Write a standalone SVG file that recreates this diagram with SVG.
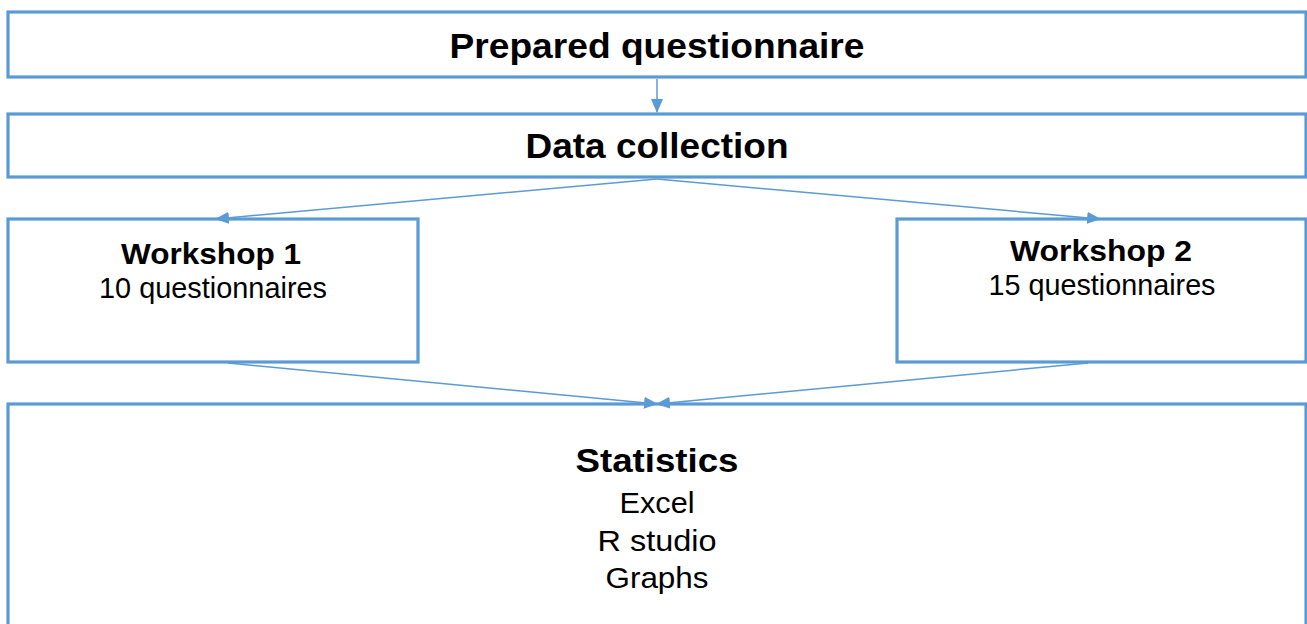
<svg xmlns="http://www.w3.org/2000/svg" width="1307" height="624" viewBox="0 0 1307 624">
<style>
.box{fill:#fff;stroke:#5B9BD5;stroke-width:3.2}
.con{fill:none;stroke:#5B9BD5;stroke-width:1.5}
.b{font-family:"Liberation Sans",Arial,sans-serif;font-weight:bold;fill:#000;text-anchor:middle}
.r{font-family:"Liberation Sans",Arial,sans-serif;fill:#000;text-anchor:middle}
</style>
<defs>
<marker id="ah" markerUnits="userSpaceOnUse" markerWidth="14" markerHeight="12" viewBox="0 0 14 12" refX="13" refY="6" orient="auto">
<path d="M0,0 L14,6 L0,12 Z" fill="#5B9BD5"/>
</marker>
</defs>
<rect width="1307" height="624" fill="#fff"/>
<g id="n1"><rect class="box" x="8" y="12" width="1298" height="65"/>
<text class="b" x="657" y="58" font-size="35" textLength="415" lengthAdjust="spacingAndGlyphs">Prepared questionnaire</text></g>
<g id="n2"><rect class="box" x="8" y="114" width="1298" height="63"/>
<text class="b" x="657" y="158" font-size="35" textLength="263" lengthAdjust="spacingAndGlyphs">Data collection</text></g>
<g id="n3"><rect class="box" x="8" y="219" width="410" height="143"/>
<text class="b" x="211" y="264" font-size="30" textLength="180" lengthAdjust="spacingAndGlyphs">Workshop 1</text>
<text class="r" x="213" y="298" font-size="29.5" textLength="228" lengthAdjust="spacingAndGlyphs">10 questionnaires</text></g>
<g id="n4"><rect class="box" x="897" y="219" width="409" height="143"/>
<text class="b" x="1101" y="261" font-size="30" textLength="182" lengthAdjust="spacingAndGlyphs">Workshop 2</text>
<text class="r" x="1102" y="295" font-size="29.5" textLength="227" lengthAdjust="spacingAndGlyphs">15 questionnaires</text></g>
<g id="n5"><rect class="box" x="8" y="404" width="1298" height="240"/>
<text class="b" x="657" y="472" font-size="33" textLength="163" lengthAdjust="spacingAndGlyphs">Statistics</text>
<text class="r" x="657" y="513" font-size="30" textLength="75" lengthAdjust="spacingAndGlyphs">Excel</text>
<text class="r" x="657" y="551" font-size="30" textLength="119" lengthAdjust="spacingAndGlyphs">R studio</text>
<text class="r" x="657" y="588" font-size="30" textLength="103" lengthAdjust="spacingAndGlyphs">Graphs</text></g>
<g id="connectors">
<line class="con" x1="657" y1="79" x2="657" y2="112" marker-end="url(#ah)"/>
<line class="con" x1="657" y1="179" x2="216" y2="219" marker-end="url(#ah)"/>
<line class="con" x1="657" y1="179" x2="1100" y2="219" marker-end="url(#ah)"/>
<line class="con" x1="228" y1="363" x2="657" y2="404" marker-end="url(#ah)"/>
<line class="con" x1="1088" y1="363" x2="657" y2="404" marker-end="url(#ah)"/>
</g>
</svg>
